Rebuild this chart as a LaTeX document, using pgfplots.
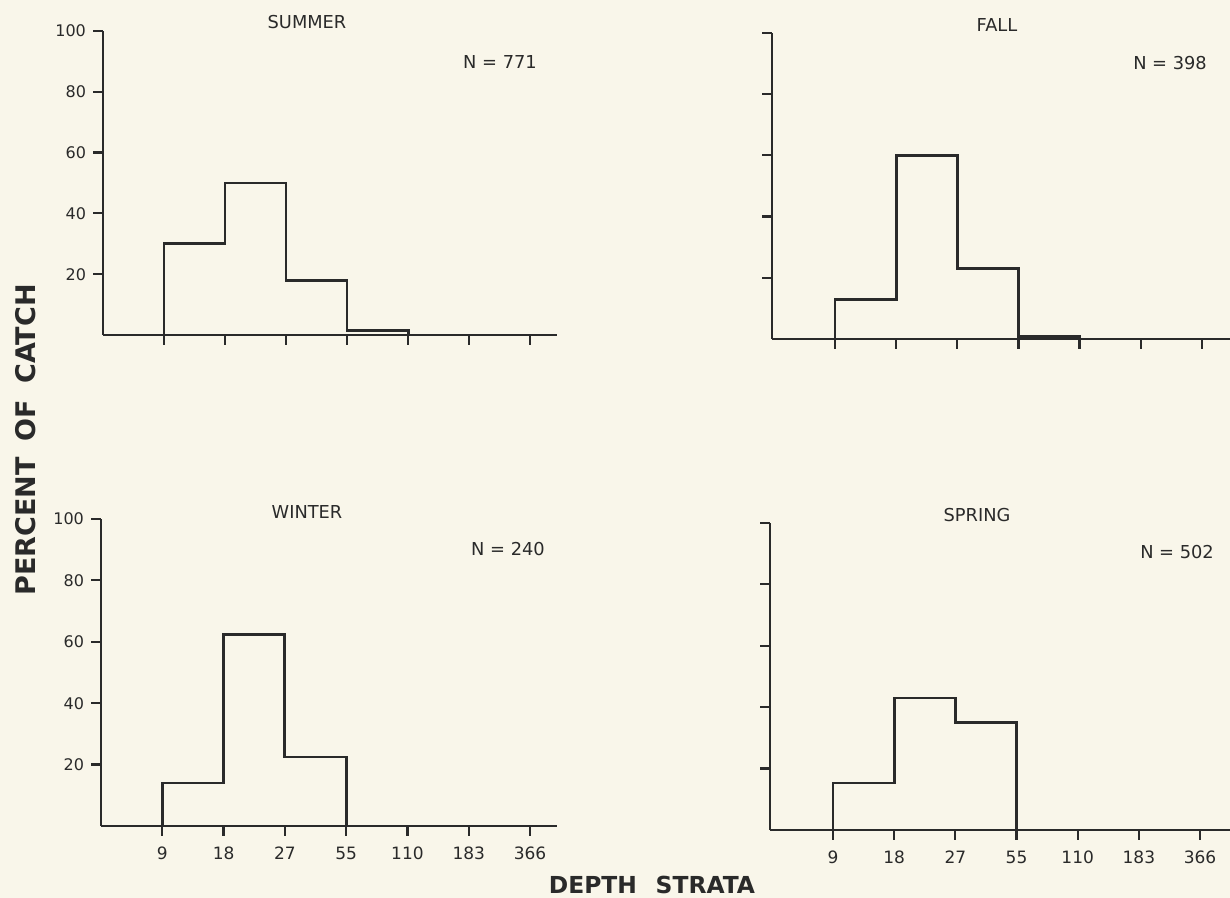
\documentclass[border=0pt]{standalone}
\usepackage{pgfplots}
\pgfplotsset{compat=1.18}
\usepackage{fontspec}
\setmainfont{DejaVu Sans}
\definecolor{paper}{RGB}{249,246,234}
\definecolor{ink}{RGB}{42,42,42}
\pgfplotsset{
  hist/.style={
    scale only axis, anchor=south west,
    axis x line=bottom, axis y line=left,
    axis line style={ink, line width=1.25pt, -},
    x axis line style={-}, y axis line style={-},
    ymin=0, ymax=100,
    xtick={0,1,2,3,4,5,6}, ytick={20,40,60,80,100},
    tick align=outside, major tick length=5pt,
    every tick/.style={ink, line width=1.1pt},
    xticklabels={}, yticklabels={},
    xticklabel style={font=\fontsize{8.5}{9}\selectfont, text=ink, yshift=-2pt},
    yticklabel style={font=\fontsize{8}{9}\selectfont, text=ink},
    clip=false,
  },
  step/.style={const plot, ink, line width=1.4pt, line join=miter, mark=none},
}
\begin{document}
\begin{tikzpicture}
\fill[paper] (0,0) rectangle (615pt,449pt);

% SUMMER
\begin{axis}[hist, at={(51.5pt,281.5pt)}, width=227pt, height=152pt,
  xmin=-1, xmax=6.44, yticklabels={20,40,60,80,100}]
\addplot[step] coordinates {(0,0) (0,30) (1,50) (2,18) (3,1.5) (4,1.5) (4,0)};
\end{axis}

% FALL
\begin{axis}[hist, at={(386pt,279.5pt)}, width=229pt, height=153pt,
  xmin=-1.03, xmax=6.46]
\addplot[step] coordinates {(0,0) (0,13) (1,60) (2,23) (3,0.7) (4,0.7) (4,0)};
\end{axis}

% WINTER
\begin{axis}[hist, at={(50.5pt,36pt)}, width=228pt, height=153.5pt,
  xmin=-1, xmax=6.44, yticklabels={20,40,60,80,100},
  xticklabels={9,18,27,55,110,183,366}]
\addplot[step] coordinates {(0,0) (0,14) (1,62.5) (2,22.5) (3,22.5) (3,0)};
\end{axis}

% SPRING
\begin{axis}[hist, at={(385pt,34pt)}, width=230pt, height=153.5pt,
  xmin=-1.03, xmax=6.49,
  xticklabels={9,18,27,55,110,183,366}]
\addplot[step] coordinates {(0,0) (0,15.3) (1,43) (2,35) (3,35) (3,0)};
\end{axis}

\begin{scope}[every node/.style={text=ink, font=\fontsize{8.9}{10}\selectfont, inner sep=0pt}]
\node at (153.5pt,438pt) {SUMMER};
\node at (498.5pt,436.5pt) {FALL};
\node at (153.5pt,193pt) {WINTER};
\node at (488.5pt,191.5pt) {SPRING};
\node at (250pt,418pt) {N = 771};
\node at (585pt,417.5pt) {N = 398};
\node at (254pt,174.5pt) {N = 240};
\node at (588.5pt,173pt) {N = 502};
\end{scope}
\node[text=ink, font=\bfseries\fontsize{13.5}{15}\selectfont, rotate=90, inner sep=0pt] at (13pt,229pt) {PERCENT\hspace{0.6em}OF\hspace{0.6em}CATCH};
\node[text=ink, font=\bfseries\fontsize{11.7}{13}\selectfont, inner sep=0pt] at (326pt,6.5pt) {DEPTH\hspace{0.8em}STRATA};
\pgfresetboundingbox
\useasboundingbox (0,0) rectangle (615pt,449pt);
\end{tikzpicture}
\end{document}
